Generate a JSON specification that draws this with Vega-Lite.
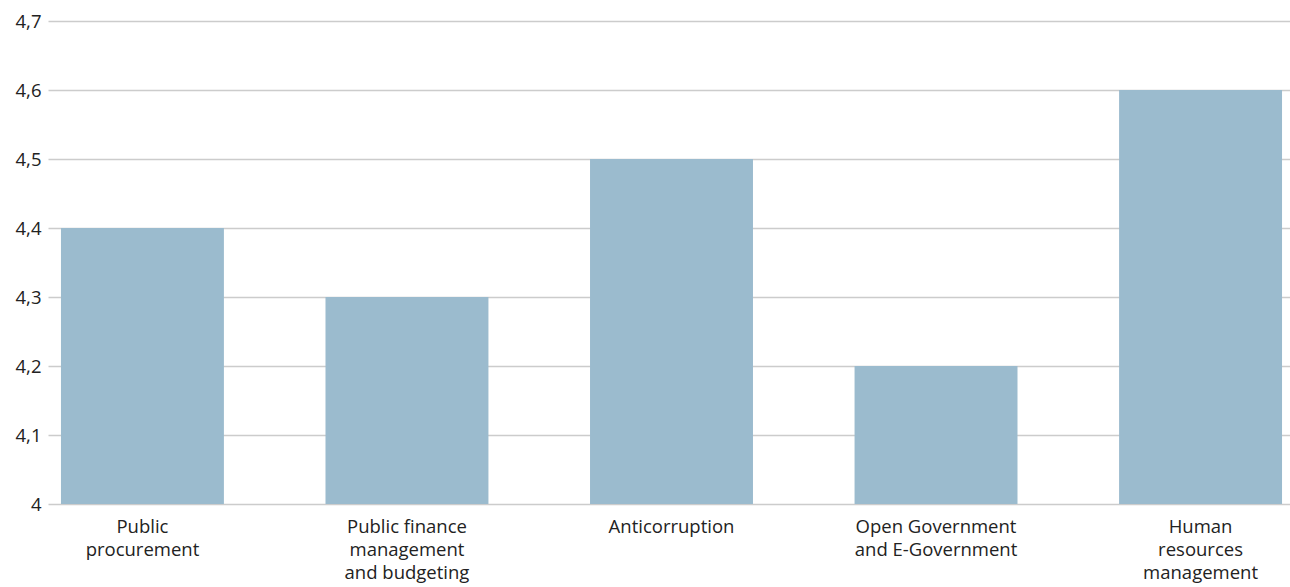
{
  "$schema": "https://vega.github.io/schema/vega-lite/v6.json",
  "autosize": {"type": "none"},
  "width": 1247,
  "height": 483,
  "padding": {"left": 48, "top": 21, "right": 0, "bottom": 83},
  "background": "white",
  "config": {
    "view": {"stroke": null},
    "font": "Open Sans"
  },
  "data": {
    "values": [
      {"area": "Public procurement", "score": 4.4},
      {"area": "Public finance management and budgeting", "score": 4.3},
      {"area": "Anticorruption", "score": 4.5},
      {"area": "Open Government and E-Government", "score": 4.2},
      {"area": "Human resources management", "score": 4.6}
    ]
  },
  "mark": {"type": "bar", "color": "#9bbbce"},
  "encoding": {
    "x": {
      "field": "area",
      "type": "nominal",
      "sort": null,
      "scale": {"paddingInner": 0.384, "paddingOuter": 0.049},
      "axis": {
        "title": null,
        "domain": false,
        "ticks": false,
        "labelAngle": 0,
        "labelFontSize": 18.5,
        "labelColor": "#222222",
        "labelPadding": 13,
        "labelLineHeight": 23,
        "labelBaseline": "top",
        "labelLimit": 300,
        "labelExpr": "datum.label == 'Public procurement' ? ['Public', 'procurement'] : datum.label == 'Public finance management and budgeting' ? ['Public finance', 'management', 'and budgeting'] : datum.label == 'Open Government and E-Government' ? ['Open Government', 'and E-Government'] : datum.label == 'Human resources management' ? ['Human', 'resources', 'management'] : datum.label"
      }
    },
    "y": {
      "field": "score",
      "type": "quantitative",
      "scale": {"domain": [4, 4.7], "zero": false, "nice": false},
      "axis": {
        "title": null,
        "domain": false,
        "ticks": false,
        "values": [4, 4.1, 4.2, 4.3, 4.4, 4.5, 4.6, 4.7],
        "grid": true,
        "gridColor": "#cccccc",
        "gridWidth": 1.5,
        "labelFontSize": 18.5,
        "labelColor": "#222222",
        "labelPadding": 7,
        "labelExpr": "datum.value == 4 ? '4' : replace(format(datum.value, '.1f'), '.', ',')"
      }
    },
    "y2": {"datum": 4}
  }
}
